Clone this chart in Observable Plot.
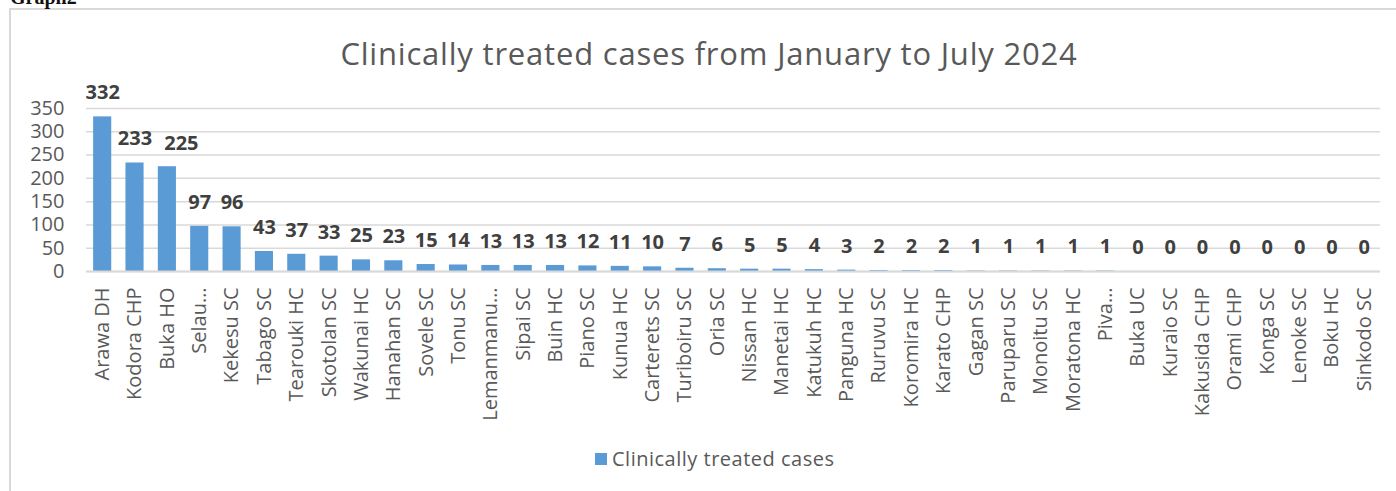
<!DOCTYPE html>
<html>
<head>
<meta charset="utf-8">
<script src="https://cdn.jsdelivr.net/npm/d3@7"></script>
<script src="https://cdn.jsdelivr.net/npm/@observablehq/plot@0.6"></script>
<style>
  html, body { margin: 0; padding: 0; background: #fff; }
  #wrap { position: relative; width: 1396px; height: 491px; overflow: hidden; font-family: "Open Sans", sans-serif; }
  #frame { position: absolute; left: 9px; top: 8px; width: 1500px; height: 600px; border-left: 2px solid #d9d9d9; border-top: 2px solid #d9d9d9; }
  #graph { position: absolute; left: 10px; top: -14px; font-family: "Liberation Serif", serif; font-size: 20px; font-weight: bold; color: #111; }
  #title { position: absolute; left: 0; width: 1418px; top: 33px; text-align: center; font-size: 31px; letter-spacing: 0.8px; color: #595959; line-height: 40px; white-space: nowrap; }
  #chart { position: absolute; left: 0; top: 0; }
  #legend { position: absolute; left: 595px; top: 446px; font-size: 20px; letter-spacing: 0.5px; color: #595959; display: flex; align-items: center; line-height: 26px; }
  #legend .sw { width: 12px; height: 12px; background: #5b9bd5; margin-right: 5px; }
</style>
</head>
<body>
<div id="wrap">
  <div id="frame"></div>
  <div id="graph">Graph2</div>
  <div id="title">Clinically treated cases from January to July 2024</div>
  <div id="chart"></div>
  <div id="legend"><span class="sw"></span><span>Clinically treated cases</span></div>
</div>
<script>
const facilities = ["Arawa DH","Kodora CHP","Buka HO","Selau…","Kekesu SC","Tabago SC","Tearouki HC","Skotolan SC","Wakunai HC","Hanahan SC","Sovele SC","Tonu SC","Lemanmanu…","Sipai SC","Buin HC","Piano SC","Kunua HC","Carterets SC","Turiboiru SC","Oria SC","Nissan HC","Manetai HC","Katukuh HC","Panguna HC","Ruruvu SC","Koromira HC","Karato CHP","Gagan SC","Paruparu SC","Monoitu SC","Moratona HC","Piva…","Buka UC","Kuraio SC","Kakusida CHP","Orami CHP","Konga SC","Lenoke SC","Boku HC","Sinkodo SC"];
const cases = [332,233,225,97,96,43,37,33,25,23,15,14,13,13,13,12,11,10,7,6,5,5,4,3,2,2,2,1,1,1,1,1,0,0,0,0,0,0,0,0];
const yTicks = [0,50,100,150,200,250,300,350];

const data = facilities.map((name, i) => ({name, value: cases[i]}));
// In the reference, the "Buka HO" label is nudged right so it does not collide with its neighbour
const nudged = d => d.name === "Buka HO";

const chart = Plot.plot({
  width: 1396,
  height: 491,
  marginLeft: 86,
  marginRight: 16,
  marginTop: 108,
  marginBottom: 220,
  style: {fontFamily: "'Open Sans', sans-serif", background: "transparent", overflow: "visible"},
  x: {domain: facilities, paddingInner: 0.44, paddingOuter: 0.22, round: false, label: null},
  y: {domain: [0, 350], label: null},
  marks: [
    Plot.gridY(yTicks, {stroke: "#d9d9d9", strokeOpacity: 1, strokeWidth: 1.5}),
    Plot.axisY({ticks: yTicks, tickSize: 0, tickPadding: 22, fontSize: 20, fill: "#595959", label: null}),
    Plot.barY(data, {x: "name", y: "value", fill: "#5b9bd5"}),
    Plot.ruleY([0], {stroke: "#d9d9d9", strokeWidth: 2}),
    Plot.axisX({tickSize: 0, tickPadding: 16, tickRotate: -90, fontSize: 20, fill: "#595959", label: null}),
    Plot.text(data, {filter: d => !nudged(d), x: "name", y: "value", text: d => String(d.value), dy: -24, fontSize: 20, fontWeight: "bold", fill: "#404040"}),
    Plot.text(data, {filter: nudged, x: "name", y: "value", text: d => String(d.value), dx: 14, dy: -23, fontSize: 20, fontWeight: "bold", fill: "#404040"})
  ]
});
document.getElementById("chart").appendChild(chart);
</script>
</body>
</html>
